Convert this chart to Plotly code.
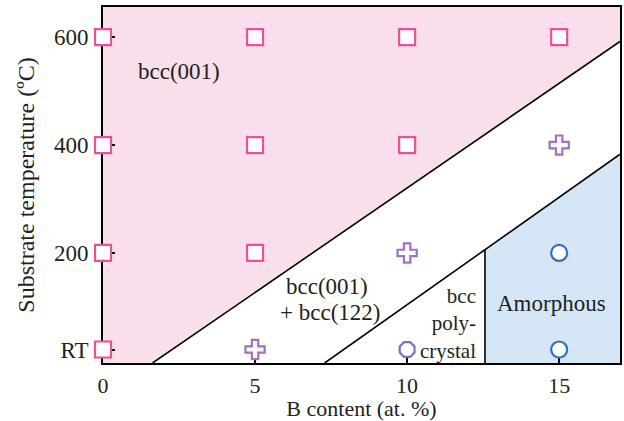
import plotly.graph_objects as go

# Axis settings
x_range = [0, 17]
y_range = [-4, 656]
x_ticks = [0, 5, 10, 15]
x_ticktext = ["0", "5", "10", "15"]
y_ticks = [21, 200, 400, 600]
y_ticktext = ["RT", "200", "400", "600"]

# Phase boundaries (B content, temperature)
b1_x = [1.63, 17]          # bcc(001) / mixed boundary
b1_y = [-4, 592]
b2_x = [7.29, 17]          # mixed / polycrystal & amorphous boundary
b2_y = [-4, 383]
b3_x = [12.56, 12.56]      # polycrystal / amorphous boundary
b3_y = [-4, 206]

# Observed samples
sq_x = [0, 0, 0, 0, 5, 5, 5, 10, 10, 15]
sq_y = [21, 200, 400, 600, 200, 400, 600, 400, 600, 600]
cr_x = [5, 10, 15]
cr_y = [21, 200, 400]
poly_x = [10]
poly_y = [21]
am_x = [15, 15]
am_y = [21, 200]

# Phase labels
labels = ["bcc(001)", "bcc(001)", "+ bcc(122)", "bcc<br>poly-<br>crystal", "Amorphous"]
label_x = [2.49, 7.36, 7.46, 12.32, 14.76]
label_y = [536, 138, 90, 70, 107]
label_anchor = ["center", "center", "center", "right", "center"]
label_size = [23, 23, 23, 21, 23]

PINK_FILL = "#f9dfeb"
BLUE_FILL = "#d5e7f6"
INK = "#231f20"
FONT = "Liberation Serif"


def path_of(xs, ys):
    return "M " + " L ".join(f"{x},{y}" for x, y in zip(xs, ys)) + " Z"


fig = go.Figure()

# amorphous top edge where boundary 2 meets the vertical boundary
m = (b2_y[1] - b2_y[0]) / (b2_x[1] - b2_x[0])
top_at_b3 = b2_y[0] + m * (b3_x[0] - b2_x[0])

# region fills, drawn beneath axes and traces
pink_xs = [x_range[0], b1_x[0], b1_x[1], x_range[1], x_range[0]]
pink_ys = [y_range[0], b1_y[0], b1_y[1], y_range[1], y_range[1]]
blue_xs = [b3_x[0], b3_x[0], b2_x[1], x_range[1]]
blue_ys = [y_range[0], top_at_b3, b2_y[1], y_range[0]]
for xs, ys, col in [(pink_xs, pink_ys, PINK_FILL), (blue_xs, blue_ys, BLUE_FILL)]:
    fig.add_shape(type="path", path=path_of(xs, ys), xref="x", yref="y",
                  fillcolor=col, line=dict(width=0), layer="between")

# boundary lines
for bx, by in [(b1_x, b1_y), (b2_x, b2_y), ([b3_x[0], b3_x[0]], [y_range[0], top_at_b3])]:
    fig.add_trace(go.Scatter(x=bx, y=by, mode="lines",
                             line=dict(color="black", width=1.6),
                             hoverinfo="skip", showlegend=False))

# sample markers
marker_sets = [
    (sq_x, sq_y, "square", "#ec4f9c"),
    (cr_x, cr_y, "cross", "#a171bf"),
    (poly_x, poly_y, "octagon", "#7a6fc6"),
    (am_x, am_y, "circle", "#3a6cc2"),
]
for mx, my, sym, col in marker_sets:
    fig.add_trace(go.Scatter(x=mx, y=my, mode="markers", showlegend=False, cliponaxis=False,
                             marker=dict(symbol=sym, size=16, color="white",
                                         line=dict(color=col, width=2.2))))

for t, lx, ly, anc, sz in zip(labels, label_x, label_y, label_anchor, label_size):
    fig.add_annotation(x=lx, y=ly, text=t, showarrow=False, align=anc,
                       font=dict(family=FONT, size=sz, color=INK),
                       xanchor=anc, yanchor="middle")

axis_common = dict(showline=True, linecolor="black", linewidth=1.8, mirror=True,
                   ticks="inside", tickcolor="black", tickwidth=1.6,
                   showgrid=False, zeroline=False, layer="below traces")

fig.update_xaxes(range=x_range, tickvals=x_ticks, ticktext=x_ticktext, ticklen=8,
                 ticklabelstandoff=2, tickfont=dict(family=FONT, size=22, color=INK),
                 title=dict(text="B content (at. %)", font=dict(family=FONT, size=22, color=INK),
                            standoff=5),
                 **axis_common)
fig.update_yaxes(range=y_range, tickvals=y_ticks, ticktext=y_ticktext, ticklen=12,
                 ticklabelstandoff=8, tickfont=dict(family=FONT, size=23, color=INK),
                 title=dict(text="Substrate temperature (ºC)", font=dict(family=FONT, size=24, color=INK),
                            standoff=13),
                 **axis_common)

fig.update_layout(width=624, height=421, margin=dict(l=103, r=2, t=7, b=56),
                  plot_bgcolor="white", paper_bgcolor="white")

fig.write_html("out.html")
